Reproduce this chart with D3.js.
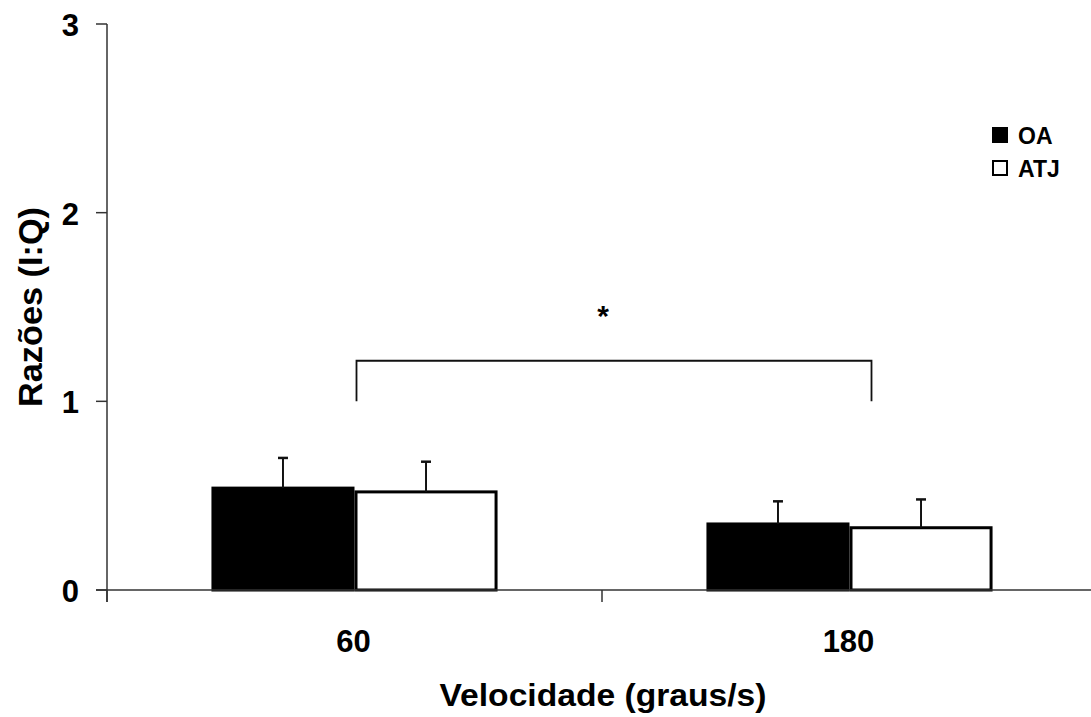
<!DOCTYPE html>
<html>
<head>
<meta charset="utf-8">
<script src="https://cdn.jsdelivr.net/npm/d3@7"></script>
<style>
  html, body { margin: 0; padding: 0; background: #fff; }
  svg { display: block; }
  text { font-family: "Liberation Sans", Arial, sans-serif; font-weight: bold; fill: #000; }
</style>
</head>
<body>
<svg id="chart" width="1091" height="717"></svg>
<script>
// Isokinetic I:Q ratios by angular velocity, two groups (mean + SD)
const categories = ["60", "180"];
const seriesNames = ["OA", "ATJ"];
const oaMean = [0.54, 0.35];
const oaSD = [0.16, 0.12];
const atjMean = [0.52, 0.33];
const atjSD = [0.16, 0.15];
const yTicks = [0, 1, 2, 3];

const W = 1091, H = 717;
const svg = d3.select("#chart");

const plot = { left: 107, right: 1097, top: 24, bottom: 590 };

const y = d3.scaleLinear().domain([0, 3]).range([plot.bottom, plot.top]);
const x0 = d3.scaleBand().domain(categories).range([plot.left, plot.right]).padding(0);
const groupWidth = x0.bandwidth() * 0.578;
const x1 = d3.scaleBand().domain(seriesNames).range([0, groupWidth]).padding(0);

const rows = categories.map((c, i) => ({
  cat: c,
  vals: [
    { s: "OA", mean: oaMean[i], sd: oaSD[i] },
    { s: "ATJ", mean: atjMean[i], sd: atjSD[i] }
  ]
}));

const fills = { OA: "#000", ATJ: "#fff" };

// Bars
const groups = svg.append("g").selectAll("g").data(rows).join("g")
  .attr("transform", d => `translate(${x0(d.cat) + (x0.bandwidth() - groupWidth) / 2},0)`);

groups.selectAll("rect").data(d => d.vals).join("rect")
  .attr("x", d => x1(d.s) + 1.5)
  .attr("width", x1.bandwidth() - 3)
  .attr("y", d => y(d.mean))
  .attr("height", d => y(0) - y(d.mean))
  .attr("fill", d => fills[d.s])
  .attr("stroke", "#000")
  .attr("stroke-width", 3);

// Error bars (upper SD only)
const capHalf = 5;
groups.selectAll("g.err").data(d => d.vals).join("g").attr("class", "err")
  .each(function (d) {
    const g = d3.select(this);
    const cx = x1(d.s) + x1.bandwidth() / 2;
    g.append("line")
      .attr("x1", cx).attr("x2", cx)
      .attr("y1", y(d.mean)).attr("y2", y(d.mean + d.sd))
      .attr("stroke", "#111").attr("stroke-width", 2);
    g.append("line")
      .attr("x1", cx - capHalf).attr("x2", cx + capHalf)
      .attr("y1", y(d.mean + d.sd)).attr("y2", y(d.mean + d.sd))
      .attr("stroke", "#111").attr("stroke-width", 2.5);
  });

// Y axis
const yAxis = svg.append("g").attr("transform", `translate(${plot.left},0)`);
yAxis.append("line")
  .attr("x1", 0).attr("x2", 0)
  .attr("y1", y(3)).attr("y2", y(0) + 12)
  .attr("stroke", "#333").attr("stroke-width", 1.5);
yAxis.selectAll("line.tick").data(yTicks).join("line").attr("class", "tick")
  .attr("x1", -11).attr("x2", 0)
  .attr("y1", d => y(d)).attr("y2", d => y(d))
  .attr("stroke", "#333").attr("stroke-width", 1.5);
yAxis.selectAll("text").data(yTicks).join("text")
  .attr("x", -28).attr("y", d => y(d) + 12)
  .attr("text-anchor", "end")
  .attr("font-size", 31)
  .text(d => d);

// X axis
const xAxis = svg.append("g").attr("transform", `translate(0,${plot.bottom})`);
xAxis.append("line")
  .attr("x1", plot.left - 11).attr("x2", W)
  .attr("y1", 0).attr("y2", 0)
  .attr("stroke", "#333").attr("stroke-width", 1.5);
const xTickPos = [plot.left, x0("180"), plot.right];
xAxis.selectAll("line.tick").data(xTickPos).join("line").attr("class", "tick")
  .attr("x1", d => d).attr("x2", d => d)
  .attr("y1", 0).attr("y2", 12)
  .attr("stroke", "#333").attr("stroke-width", 1.5);
xAxis.selectAll("text").data(categories).join("text")
  .attr("x", d => x0(d) + x0.bandwidth() / 2 - 1)
  .attr("y", 62)
  .attr("text-anchor", "middle")
  .attr("font-size", 31)
  .text(d => d);

// Axis titles
svg.append("text")
  .attr("x", (plot.left + plot.right) / 2 + 1)
  .attr("y", 706)
  .attr("text-anchor", "middle")
  .attr("font-size", 31)
  .attr("textLength", 327).attr("lengthAdjust", "spacingAndGlyphs")
  .text("Velocidade (graus/s)");

svg.append("text")
  .attr("transform", `translate(42,307) rotate(-90)`)
  .attr("text-anchor", "middle")
  .attr("font-size", 34)
  .attr("textLength", 200).attr("lengthAdjust", "spacingAndGlyphs")
  .text("Razões (I:Q)");

// Significance bracket between velocities
const bx1 = x0("60") + x0.bandwidth() / 2 + 2;
const bx2 = x0("180") + x0.bandwidth() / 2 + 22;
const bTop = y(1.215), bBot = y(1.0);
svg.append("path")
  .attr("d", `M${bx1},${bBot}V${bTop}H${bx2}V${bBot}`)
  .attr("fill", "none").attr("stroke", "#111").attr("stroke-width", 1.8);
svg.append("text")
  .attr("x", x0("180") + 1)
  .attr("y", y(1.48) + 15)
  .attr("text-anchor", "middle")
  .attr("font-size", 30)
  .text("*");

// Legend
const legend = svg.append("g").attr("transform", "translate(992,127)");
const li = legend.selectAll("g").data(seriesNames).join("g")
  .attr("transform", (d, i) => `translate(0,${i * 33})`);
li.append("rect")
  .attr("x", 1).attr("y", 1)
  .attr("width", 14).attr("height", 14)
  .attr("fill", d => fills[d])
  .attr("stroke", "#000").attr("stroke-width", 2);
li.append("text")
  .attr("x", 26).attr("y", 16.5)
  .attr("font-size", 23)
  .text(d => d);
</script>
</body>
</html>
